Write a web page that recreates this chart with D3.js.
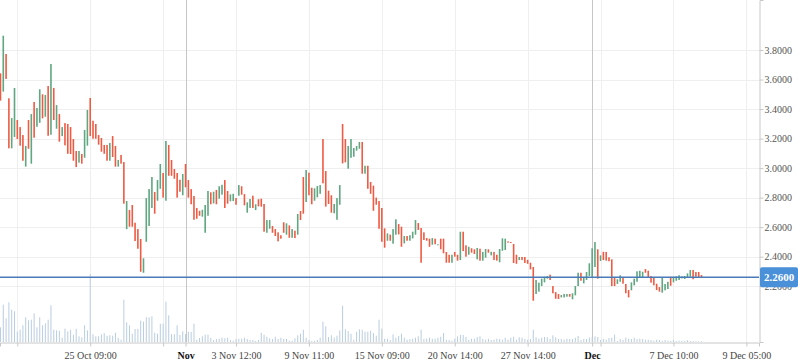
<!DOCTYPE html>
<html>
<head>
<meta charset="utf-8">
<script src="https://cdn.jsdelivr.net/npm/d3@7/dist/d3.min.js"></script>
<style>
html,body{margin:0;padding:0;background:#fff;}
svg{display:block;}
</style>
</head>
<body>
<svg id="chart" width="798" height="363"></svg>
<script>
// ---------- data ----------
const opens = [
3.642,3.518,3.773,3.473,3.134,3.211,3.326,3.278,3.224,3.010,
3.326,3.030,3.448,3.280,3.307,3.500,3.348,3.556,3.226,3.543,
3.267,3.366,3.217,3.305,3.299,3.278,3.197,3.116,3.037,3.096,
3.070,3.152,3.475,3.321,3.299,3.224,3.204,3.157,3.157,3.050,
3.217,3.150,3.010,3.089,3.041,2.587,2.716,2.750,2.630,2.587,
2.520,2.291,2.501,2.608,2.730,2.838,2.779,2.860,2.967,2.779,
3.157,3.055,2.994,2.967,2.921,2.816,3.028,2.919,2.858,2.811,
2.730,2.711,2.671,2.562,2.677,2.836,2.761,2.852,2.793,2.820,
2.919,2.845,2.775,2.777,2.797,2.813,2.877,2.824,2.698,2.730,
2.813,2.716,2.789,2.793,2.757,2.562,2.589,2.608,2.587,2.565,
2.545,2.633,2.549,2.612,2.528,2.576,2.549,2.709,2.940,2.770,
2.969,2.867,2.779,2.802,2.826,3.197,2.980,2.847,2.816,2.694,
2.650,2.752,3.299,3.197,2.996,3.070,3.077,3.118,3.131,3.177,
2.962,3.016,2.906,2.881,2.800,2.777,2.730,2.592,2.508,2.549,
2.488,2.549,2.621,2.603,2.490,2.540,2.508,2.524,2.549,2.628,
2.594,2.565,2.526,2.522,2.481,2.522,2.477,2.522,2.522,2.432,
2.413,2.359,2.432,2.413,2.377,2.569,2.477,2.413,2.457,2.450,
2.382,2.454,2.373,2.393,2.450,2.409,2.432,2.413,2.362,2.440,
2.445,2.504,2.499,2.486,2.413,2.377,2.398,2.398,2.379,2.359,
2.330,2.147,2.163,2.201,2.226,2.251,2.278,2.201,2.160,2.147,
2.124,2.124,2.129,2.147,2.111,2.138,2.201,2.291,2.219,2.242,
2.269,2.264,2.330,2.450,2.371,2.433,2.432,2.396,2.382,2.255,
2.215,2.230,2.260,2.215,2.174,2.172,2.206,2.230,2.260,2.260,
2.316,2.305,2.269,2.260,2.217,2.194,2.156,2.172,2.181,2.264,
2.226,2.237,2.242,2.253,2.249,2.257,2.264,2.310,2.296,2.296,
2.276
];
const closes = [
3.457,3.897,3.604,3.134,3.339,3.543,3.197,3.152,3.050,3.150,
3.131,3.366,3.206,3.407,3.534,3.337,3.495,3.219,3.705,3.326,
3.427,3.179,3.278,3.154,3.097,3.095,3.050,3.007,3.116,3.030,
3.258,3.394,3.217,3.199,3.199,3.159,3.111,3.097,3.050,3.170,
3.075,3.010,3.055,3.030,2.759,2.777,2.603,2.603,2.506,2.454,
2.298,2.389,2.797,2.858,2.940,2.691,2.919,3.028,2.800,3.184,
2.948,2.948,2.928,2.800,2.840,2.960,2.870,2.800,2.755,2.650,
2.657,2.677,2.718,2.750,2.845,2.755,2.840,2.755,2.877,2.887,
2.730,2.759,2.822,2.826,2.752,2.885,2.820,2.748,2.768,2.791,
2.730,2.755,2.741,2.739,2.569,2.648,2.648,2.562,2.540,2.504,
2.522,2.562,2.626,2.528,2.587,2.526,2.689,2.648,2.691,2.987,
2.816,2.755,2.863,2.879,2.885,2.897,2.739,2.757,2.698,2.757,
2.797,2.885,3.032,3.039,3.150,3.197,3.136,3.150,3.177,2.962,
3.016,2.860,2.826,2.711,2.752,2.589,2.501,2.461,2.558,2.508,
2.587,2.653,2.551,2.467,2.540,2.508,2.545,2.569,2.648,2.581,
2.359,2.513,2.508,2.467,2.526,2.484,2.484,2.450,2.423,2.359,
2.359,2.413,2.400,2.373,2.569,2.438,2.400,2.467,2.427,2.418,
2.459,2.373,2.432,2.452,2.427,2.433,2.377,2.373,2.452,2.524,
2.522,2.495,2.493,2.357,2.352,2.398,2.377,2.357,2.352,2.314,
2.102,2.242,2.224,2.251,2.264,2.269,2.242,2.152,2.115,2.113,
2.140,2.147,2.147,2.129,2.152,2.201,2.291,2.237,2.257,2.296,
2.355,2.457,2.499,2.251,2.409,2.377,2.373,2.369,2.201,2.201,
2.247,2.274,2.217,2.152,2.124,2.226,2.251,2.301,2.305,2.298,
2.291,2.260,2.224,2.206,2.174,2.163,2.257,2.215,2.230,2.203,
2.264,2.267,2.274,2.267,2.269,2.287,2.310,2.247,2.264,2.260,
2.260
];
const volumes = [
147,373,237,397,323,307,103,123,167,247,
217,223,287,147,247,167,187,223,367,123,
117,113,43,133,107,123,73,133,57,47,
167,117,680,77,57,57,77,87,63,67,
63,93,43,23,423,197,167,83,130,130,
213,203,247,247,257,93,83,183,183,403,
267,77,77,167,70,107,80,103,100,183,
23,40,57,73,73,43,20,30,33,43,
37,43,20,13,30,33,33,43,30,20,
20,10,20,93,73,53,37,30,53,30,
43,30,30,13,13,37,67,83,123,43,
20,10,10,20,43,203,157,50,67,43,
63,117,363,127,110,83,23,103,127,123,
103,103,113,90,63,223,133,33,33,20,
77,43,60,83,43,23,30,33,43,57,
123,30,33,43,33,33,43,53,90,23,
20,13,33,57,70,70,50,20,33,33,
50,57,30,23,33,20,23,33,30,23,
43,23,43,53,23,47,43,30,23,30,
123,47,33,43,50,47,30,67,47,30,
30,23,33,30,30,43,60,20,30,30,
43,50,57,50,20,30,23,40,43,73,
10,30,20,43,33,30,43,30,33,30,
23,23,20,13,23,20,13,20,13,10,
20,10,13,13,10,17,10,10,7,7,
7
];
const priceTicks = [2.2,2.4,2.6,2.8,3.0,3.2,3.4,3.6,3.8];
const tickIndex = [6,32,58,84,110,136,162,188,214,240,266];
const tickLabels = ["","25 Oct 09:00","","3 Nov 12:00","9 Nov 11:00","15 Nov 09:00","20 Nov 14:00","27 Nov 14:00","","7 Dec 10:00","9 Dec 05:00"];
const monthIndex = [66,211];
const monthLabels = ["Nov","Dec"];
const lastPrice = 2.26;

// ---------- layout ----------
const W = 798, H = 363;
const plotRight = 759, plotBottom = 342;
const svg = d3.select("#chart");
const serif = "'Liberation Serif','Times New Roman',serif";

const x = d3.scaleLinear().domain([-0.17, 270.5]).range([0, plotRight]);
const y = d3.scaleLinear().domain([1.822, 4.1388]).range([plotBottom, 0]);
const yv = d3.scaleLinear().domain([0, 680]).range([plotBottom, plotBottom - 68]);

const g = svg.append("g");

// horizontal grid
g.selectAll("line.hg").data(priceTicks).join("line")
  .attr("x1", 0).attr("x2", plotRight)
  .attr("y1", d => Math.round(y(d)) + 0.5).attr("y2", d => Math.round(y(d)) + 0.5)
  .attr("stroke", "#efefef").attr("stroke-width", 1);

// vertical grid
g.selectAll("line.vg").data(tickIndex).join("line")
  .attr("x1", d => Math.round(x(d)) + 0.5).attr("x2", d => Math.round(x(d)) + 0.5)
  .attr("y1", 0).attr("y2", plotBottom)
  .attr("stroke", "#efefef").attr("stroke-width", 1);
g.selectAll("line.mg").data(monthIndex).join("line")
  .attr("x1", d => Math.round(x(d)) + 0.5).attr("x2", d => Math.round(x(d)) + 0.5)
  .attr("y1", 0).attr("y2", plotBottom)
  .attr("stroke", "#c6c6c6").attr("stroke-width", 1);

// volume bars
const idx = d3.range(opens.length);
g.selectAll("rect.vol").data(idx).join("rect")
  .attr("x", i => x(i) - 0.5).attr("width", 1)
  .attr("y", i => yv(volumes[i]))
  .attr("height", i => plotBottom - yv(volumes[i]))
  .attr("fill", "#b9cde2");

// candles
const up = "#5fa681", down = "#ef5a43";
g.selectAll("rect.c").data(idx).join("rect")
  .attr("x", i => x(i) - 0.8).attr("width", 1.6)
  .attr("y", i => y(Math.max(opens[i], closes[i])))
  .attr("height", i => Math.max(1, Math.abs(y(opens[i]) - y(closes[i]))))
  .attr("fill", i => closes[i] >= opens[i] ? up : down);

// last price line
g.append("line")
  .attr("x1", 0).attr("x2", plotRight)
  .attr("y1", y(lastPrice)).attr("y2", y(lastPrice))
  .attr("stroke", "#4a7bb9").attr("stroke-width", 1.5);

// right axis
const ya = svg.append("g").attr("transform", `translate(${plotRight + 0.5},0)`)
  .call(d3.axisRight(y).tickValues(priceTicks).tickFormat(d3.format(".4f")).tickSize(4).tickPadding(1));
ya.select(".domain").attr("stroke", "#c8c8c8");
ya.selectAll(".tick line").attr("stroke", "#c8c8c8");
ya.selectAll(".tick text").attr("fill", "#555").style("font-family", serif).style("font-size", "10px");

// bottom axis
const xa = svg.append("g").attr("transform", `translate(0,${plotBottom + 0.5})`)
  .call(d3.axisBottom(x).tickValues(tickIndex).tickFormat((d, i) => tickLabels[i]).tickSize(4).tickPadding(5));
xa.select(".domain").attr("stroke", "#c8c8c8");
xa.selectAll(".tick line").attr("stroke", "#c8c8c8");
xa.selectAll(".tick text").attr("fill", "#444").style("font-family", serif).style("font-size", "10px");

const xm = svg.append("g").attr("transform", `translate(0,${plotBottom + 0.5})`)
  .call(d3.axisBottom(x).tickValues(monthIndex).tickFormat((d, i) => monthLabels[i]).tickSize(4).tickPadding(5));
xm.select(".domain").remove();
xm.selectAll(".tick line").attr("stroke", "#c8c8c8");
xm.selectAll(".tick text").attr("fill", "#111").style("font-family", serif).style("font-size", "10px").style("font-weight", "bold");

// last price label
const ly = y(lastPrice);
svg.append("rect").attr("x", plotRight + 1).attr("y", ly - 10).attr("width", W - plotRight - 1).attr("height", 20)
  .attr("rx", 2).attr("fill", "#4a90d9");
svg.append("text").attr("x", plotRight + 1 + (W - plotRight - 1) / 2).attr("y", ly).attr("dy", "0.35em")
  .attr("text-anchor", "middle").attr("fill", "#fff")
  .style("font-family", serif).style("font-size", "11px").style("font-weight", "bold")
  .text(d3.format(".4f")(lastPrice));
</script>
</body>
</html>
